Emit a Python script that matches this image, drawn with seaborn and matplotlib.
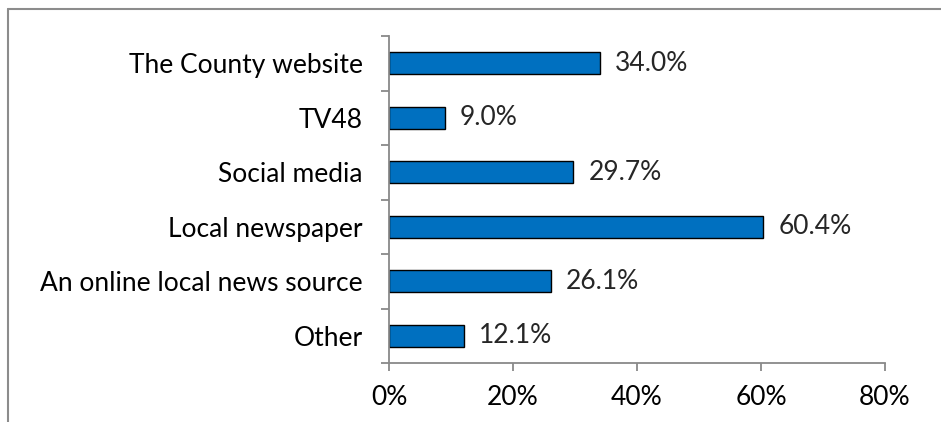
import matplotlib
matplotlib.use("Agg")
import matplotlib.pyplot as plt
from matplotlib.lines import Line2D
from matplotlib.ticker import FixedLocator, FuncFormatter
import seaborn as sns
import pandas as pd

# Where residents get their local information
sources = [
    "The County website",
    "TV48",
    "Social media",
    "Local newspaper",
    "An online local news source",
    "Other",
]
shares = [34.0, 9.0, 29.7, 60.4, 26.1, 12.1]
x_ticks = [0, 20, 40, 60, 80]

df = pd.DataFrame({"source": sources, "share": shares})

sns.set_theme(style="white")
plt.rcParams["font.family"] = ["Lato", "DejaVu Sans"]
FS = 19

fig = plt.figure(figsize=(9.41, 4.22), dpi=100)
ax = fig.add_axes([389 / 941, 1 - 363 / 422, (885 - 389) / 941, (363 - 36) / 422])

sns.barplot(data=df, x="share", y="source", order=sources, color="#0070C0",
            saturation=1, width=0.4, edgecolor="black", linewidth=1.0, ax=ax)

ax.set_xlim(0, 80)
ax.set_ylim(len(sources) - 0.5, -0.5)
ax.set_xlabel("")
ax.set_ylabel("")

ax.xaxis.set_major_locator(FixedLocator(x_ticks))
ax.xaxis.set_major_formatter(FuncFormatter(lambda v, _: f"{v:.0f}%"))

# category labels sit between boundary tick marks
ax.yaxis.set_minor_locator(FixedLocator([i - 0.5 for i in range(len(sources) + 1)]))
ax.tick_params(axis="y", which="major", length=0, pad=19, labelsize=FS, colors="black")
ax.tick_params(axis="y", which="minor", left=True, length=5.5, width=1.3, color="#898989")
ax.tick_params(axis="x", which="major", bottom=True, length=5.5, width=1.3, color="#898989",
               pad=10, labelsize=FS, labelcolor="black")

for side in ("top", "right"):
    ax.spines[side].set_visible(False)
for side in ("left", "bottom"):
    ax.spines[side].set_color("#898989")
    ax.spines[side].set_linewidth(1.3)

for container in ax.containers:
    ax.bar_label(container, labels=[f"{v:.1f}%" for v in shares], padding=11, fontsize=FS)

# chart frame
frame_kw = dict(color="#8c8c8c", linewidth=1.5, transform=fig.transFigure)
fig.add_artist(Line2D([8 / 941, 1.0], [1 - 9 / 422, 1 - 9 / 422], **frame_kw))
fig.add_artist(Line2D([8 / 941, 8 / 941], [1 - 9 / 422, 0.0], **frame_kw))

fig.savefig("out.png", dpi=100)
